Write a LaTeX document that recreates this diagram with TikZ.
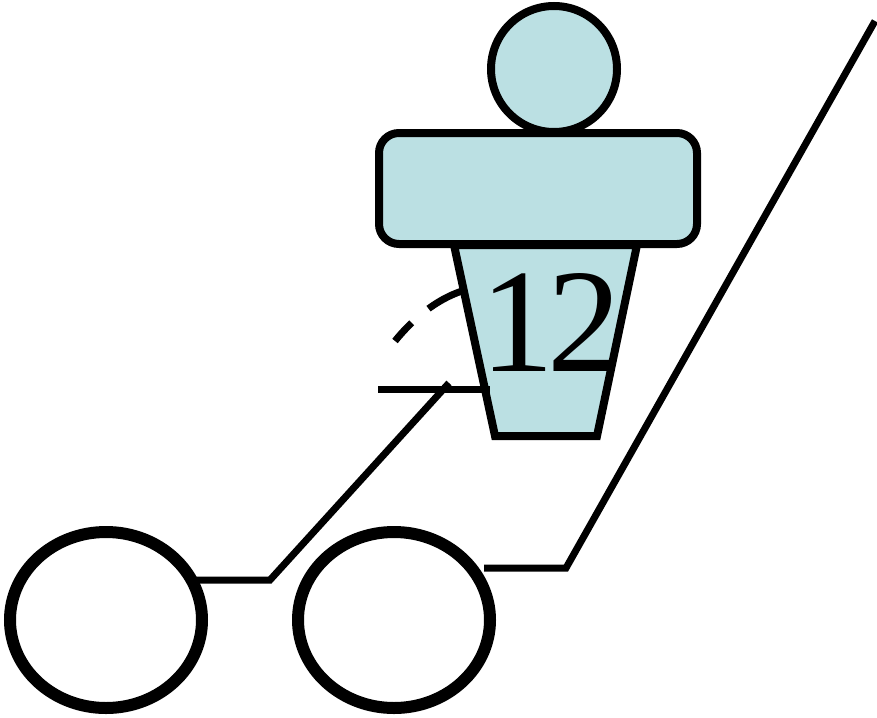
\documentclass[tikz,border=0pt]{standalone}
\usepackage{fontspec}
\setmainfont{Liberation Serif}
\definecolor{fillb}{HTML}{BBE0E3}
\begin{document}
\begin{tikzpicture}[x=1pt,y=-1pt,
 thin5/.style={line width=7pt},
 wheel/.style={line width=12pt},
 body/.style={draw=black,fill=fillb,line width=8pt}]
\useasboundingbox (0,0) rectangle (877,717);
\draw[body] (554,69) ellipse (63 and 63);
\draw[body] (454,245) -- (637,245) -- (597,436) -- (495,436) -- cycle;
\draw[body,rounded corners=20pt] (379,133) rectangle (697,244);
\node[inner sep=0pt,anchor=center,font=\fontsize{148}{148}\selectfont] (num) at (551,322) {1\kern-7pt 2};
\coordinate (d1) at (395,341);
\coordinate (d2) at (462,291);
\draw[thin5,dash pattern=on 38pt off 22pt on 40pt off 10pt] (d2) .. controls (435,300) and (412,320) .. (d1);
\coordinate (h1) at (378,389);
\coordinate (h2) at (490,389);
\draw[thin5] (h1) -- (h2);
\coordinate (a1) at (449,383);
\coordinate (a2) at (270,580);
\coordinate (a3) at (195,580);
\draw[thin5] (a1) -- (a2) -- (a3);
\coordinate (b1) at (875,21);
\coordinate (b2) at (566,568);
\coordinate (b3) at (484,568);
\draw[thin5] (b1) -- (b2) -- (b3);
\draw[wheel] (106,620) ellipse (96 and 88);
\draw[wheel] (394,620) ellipse (96 and 88);
\end{tikzpicture}
\end{document}
